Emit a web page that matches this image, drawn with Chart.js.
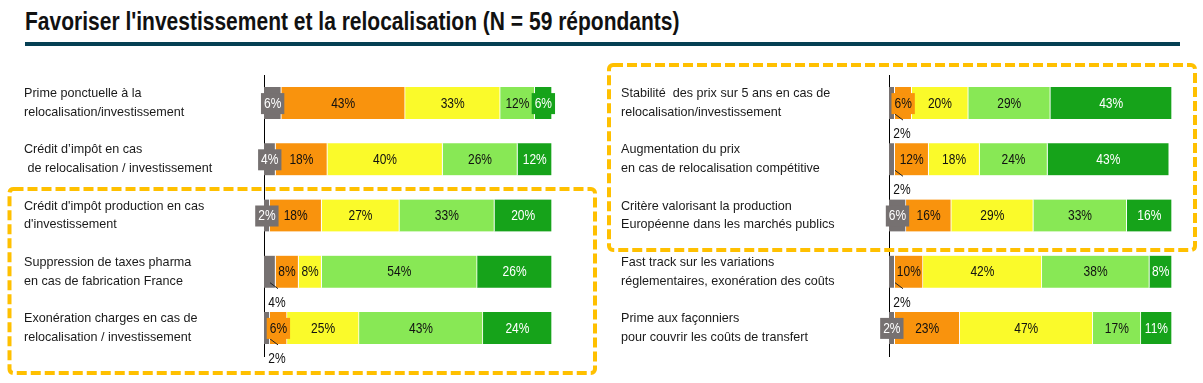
<!DOCTYPE html>
<html>
<head>
<meta charset="utf-8">
<script src="https://cdn.jsdelivr.net/npm/chart.js@4.4.1/dist/chart.umd.min.js"></script>
<style>
  body { margin: 0; background: #fff; width: 1203px; height: 383px; overflow: hidden; position: relative; }
  #title { position: absolute; left: 25px; top: 7px; font: bold 25px "Liberation Sans Narrow", "Arial Narrow", Arial, sans-serif; color: #111; white-space: nowrap; transform: scaleX(0.84); transform-origin: 0 0; }
  #rule { position: absolute; left: 25px; top: 42px; width: 1155px; height: 4px; background: #053f53; }
  .panel { position: absolute; top: 0; height: 383px; }
  #leftPanel { left: 0; width: 600px; }
  #rightPanel { left: 600px; width: 603px; }
  svg { position: absolute; left: 0; top: 0; pointer-events: none; }
</style>
</head>
<body>
<div id="title">Favoriser l'investissement et la relocalisation (N = 59 répondants)</div>
<div id="rule"></div>
<div class="panel" id="leftPanel"><canvas id="leftChart"></canvas></div>
<div class="panel" id="rightPanel"><canvas id="rightChart"></canvas></div>
<svg width="1203" height="383">
  <rect x="9.5" y="189" width="585.5" height="184" rx="4" fill="none" stroke="#ffc000" stroke-width="4" stroke-dasharray="10 4"/>
  <rect x="609" y="65" width="586" height="185" rx="4" fill="none" stroke="#ffc000" stroke-width="4" stroke-dasharray="10 4"/>
</svg>
<script>
// Left panel
const leftCategories = [
  ["Prime ponctuelle à la", "relocalisation/investissement"],
  ["Crédit d’impôt en cas", " de relocalisation / investissement"],
  ["Crédit d'impôt production en cas", "d'investissement"],
  ["Suppression de taxes pharma", "en cas de fabrication France"],
  ["Exonération charges en cas de", "relocalisation / investissement"]
];
const leftGray = [6, 4, 2, 4, 2];
const leftOrange = [43, 18, 18, 8, 6];
const leftYellow = [33, 40, 27, 8, 25];
const leftLightGreen = [12, 26, 33, 54, 43];
const leftDarkGreen = [6, 12, 20, 26, 24];
const leftGrayBelow = [false, false, false, true, true];

// Right panel
const rightCategories = [
  ["Stabilité  des prix sur 5 ans en cas de", "relocalisation/investissement"],
  ["Augmentation du prix", "en cas de relocalisation compétitive"],
  ["Critère valorisant la production", "Européenne dans les marchés publics"],
  ["Fast track sur les variations", "réglementaires, exonération des coûts"],
  ["Prime aux façonniers", "pour couvrir les coûts de transfert"]
];
const rightGray = [2, 2, 6, 2, 2];
const rightOrange = [6, 12, 16, 10, 23];
const rightYellow = [20, 18, 29, 42, 47];
const rightLightGreen = [29, 24, 33, 38, 17];
const rightDarkGreen = [43, 43, 16, 8, 11];
const rightGrayBelow = [true, true, false, true, false];

const colors = ["#767171", "#f9930d", "#fafa2a", "#88e855", "#16a31a"];
const textColors = ["#fff", "#111", "#111", "#111", "#fff"];
const labelFont = '15px Arial, "Liberation Sans", sans-serif';
const narrow = 0.8; // no Arial Narrow here, so squeeze the text

function narrowText(ctx, txt, x, y) {
  ctx.save();
  ctx.translate(x, y);
  ctx.scale(narrow, 1);
  ctx.fillText(txt, 0, 0);
  ctx.restore();
}

// draws the % labels, with a coloured box when the segment is too thin
const segmentLabels = {
  id: "segmentLabels",
  afterDatasetsDraw(chart) {
    const below = chart.options.plugins.segmentLabels.grayBelow;
    const ctx = chart.ctx;
    ctx.save();
    ctx.font = labelFont;
    ctx.textAlign = "center";
    ctx.textBaseline = "middle";
    chart.data.datasets.forEach((ds, di) => {
      const meta = chart.getDatasetMeta(di);
      meta.data.forEach((bar, i) => {
        const v = ds.data[i];
        if (!v) return;
        const txt = v + "%";
        const left = Math.min(bar.base, bar.x);
        const right = Math.max(bar.base, bar.x);
        const w = right - left;
        const cx = (left + right) / 2;
        const cy = bar.y;
        const bottom = bar.y + bar.height / 2;
        const tw = ctx.measureText(txt).width * narrow;
        if (di === 0 && below[i]) {
          ctx.strokeStyle = "#222";
          ctx.lineWidth = 1;
          ctx.beginPath();
          ctx.moveTo(left + 6, bottom - 5);
          ctx.lineTo(left + 14, bottom + 1);
          ctx.stroke();
          ctx.fillStyle = "#111";
          narrowText(ctx, txt, left + 13, bottom + 15);
          return;
        }
        if (w < tw + 3) {
          ctx.fillStyle = colors[di];
          ctx.fillRect(cx - tw / 2 - 3, cy - 10, tw + 6, 21);
        }
        ctx.fillStyle = textColors[di];
        narrowText(ctx, txt, cx, cy + 0.5);
      });
    });
    ctx.restore();
  }
};

function buildPanel(canvasId, categories, series, grayBelow, padLeft, axisWidth, padRight) {
  const ctx = document.getElementById(canvasId).getContext("2d");
  return new Chart(ctx, {
    type: "bar",
    data: {
      labels: categories,
      datasets: series.map((values, k) => ({
        data: values,
        backgroundColor: colors[k],
        borderColor: "#fff",
        borderWidth: { top: 0, bottom: 0, left: 0, right: 1 },
        borderSkipped: false,
        barThickness: 32
      }))
    },
    options: {
      indexAxis: "y",
      responsive: true,
      maintainAspectRatio: false,
      animation: false,
      layout: { padding: { left: padLeft, right: padRight, top: 75, bottom: 27 } },
      plugins: {
        legend: { display: false },
        tooltip: { enabled: false },
        segmentLabels: { grayBelow: grayBelow }
      },
      scales: {
        x: { stacked: true, min: 0, max: 100, display: false },
        y: {
          stacked: true,
          grid: { display: false, drawTicks: false },
          border: { display: true, color: "#000", width: 1 },
          ticks: {
            crossAlign: "far",
            autoSkip: false,
            color: "#1a1a1a",
            font: { family: "Arial, 'Liberation Sans', sans-serif", size: 12.6, lineHeight: 1.5 }
          },
          afterFit(scale) { scale.width = axisWidth; }
        }
      }
    },
    plugins: [segmentLabels]
  });
}

buildPanel("leftChart", leftCategories,
  [leftGray, leftOrange, leftYellow, leftLightGreen, leftDarkGreen],
  leftGrayBelow, 24, 240, 48);
buildPanel("rightChart", rightCategories,
  [rightGray, rightOrange, rightYellow, rightLightGreen, rightDarkGreen],
  rightGrayBelow, 21, 268, 31);
</script>
</body>
</html>
